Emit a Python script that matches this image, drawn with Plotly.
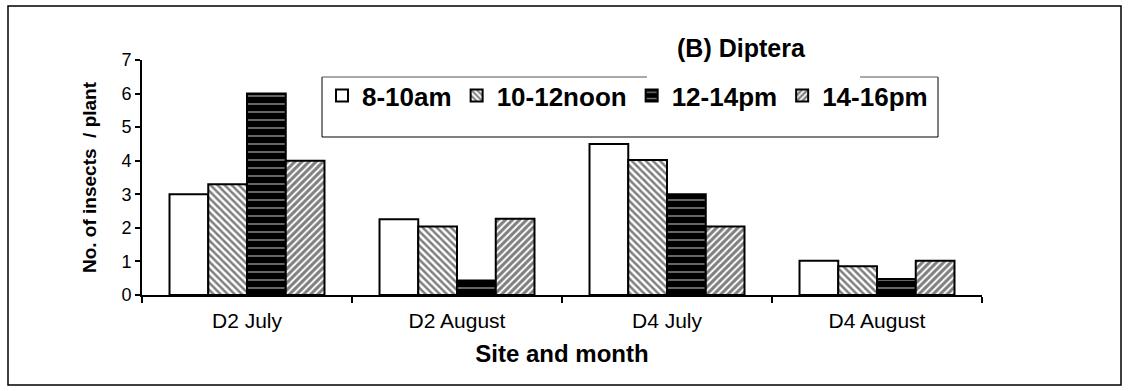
import plotly.graph_objects as go

categories = ["D2 July", "D2 August", "D4 July", "D4 August"]
series_names = ["8-10am", "10-12noon", "12-14pm", "14-16pm"]
v_8_10 = [3.0, 2.26, 4.5, 1.02]
v_10_12 = [3.3, 2.04, 4.02, 0.86]
v_12_14 = [6.0, 0.43, 3.0, 0.48]
v_14_16 = [4.0, 2.27, 2.04, 1.02]
y_ticks = [0, 1, 2, 3, 4, 5, 6, 7]

FONT = "Liberation Sans, Arial, sans-serif"

# plot area in pixels
W, H = 1129, 391
L, R, T, B = 142, 147, 60, 96
PW, PH = W - L - R, H - T - B


def px(xp):
    return (xp - L) / PW


def py(yp):
    return (H - B - yp) / PH


styles = [
    dict(color="white", pattern=dict(shape="")),
    dict(color="white", pattern=dict(shape="\\", bgcolor="white", fgcolor="black", size=5, solidity=0.5)),
    dict(color="black", pattern=dict(shape="-", bgcolor="black", fgcolor="white", size=8, solidity=0.2)),
    dict(color="white", pattern=dict(shape="/", bgcolor="white", fgcolor="black", size=5, solidity=0.62)),
]

fig = go.Figure()
for name, vals, st in zip(series_names, [v_8_10, v_10_12, v_12_14, v_14_16], styles):
    fig.add_trace(go.Bar(
        x=categories, y=vals, name=name,
        marker=dict(color=st["color"], pattern=st["pattern"],
                    line=dict(color="black", width=2)),
    ))

fig.update_layout(
    width=W, height=H,
    margin=dict(l=L, r=R, t=T, b=B, autoexpand=False),
    paper_bgcolor="white", plot_bgcolor="white",
    barmode="group", bargap=0.262, bargroupgap=0,
    font=dict(family=FONT, color="black"),
    legend=dict(
        orientation="h", x=px(322), y=py(72), xanchor="left", yanchor="top",
        bgcolor="rgba(0,0,0,0)", borderwidth=0,
        font=dict(family=FONT, size=26, color="black", weight="bold"),
        itemwidth=30, traceorder="normal",
    ),
    xaxis=dict(
        type="category", showline=True, linecolor="black", linewidth=2,
        ticks="outside", tickson="boundaries", ticklen=6, tickwidth=1.5, tickcolor="black",
        showgrid=False, tickfont=dict(family=FONT, size=21, color="black"),
        ticklabelstandoff=6,
        title=dict(text="<b>Site and month</b>", font=dict(family=FONT, size=24, color="black"), standoff=14),
    ),
    yaxis=dict(
        range=[0, 7], tickvals=y_ticks, showline=True, linecolor="black", linewidth=2,
        ticks="outside", ticklen=5, tickwidth=1.5, tickcolor="black",
        showgrid=False, zeroline=False, tickfont=dict(family=FONT, size=18, color="black"),
        title=dict(text="<b>No. of insects  / plant</b>", font=dict(family=FONT, size=19, color="black"), standoff=20),
    ),
    shapes=[
        # outer frame
        dict(type="rect", xref="paper", yref="paper", x0=px(8), x1=px(1121), y0=py(385), y1=py(6),
             line=dict(color="black", width=1.5), layer="below"),
        # legend box
        dict(type="line", xref="paper", yref="paper", x0=px(322), x1=px(322), y0=py(77), y1=py(137),
             line=dict(color="black", width=1)),
        dict(type="line", xref="paper", yref="paper", x0=px(938), x1=px(938), y0=py(77), y1=py(137),
             line=dict(color="black", width=1)),
        dict(type="line", xref="paper", yref="paper", x0=px(322), x1=px(938), y0=py(137), y1=py(137),
             line=dict(color="black", width=1)),
        dict(type="line", xref="paper", yref="paper", x0=px(322), x1=px(647), y0=py(77), y1=py(77),
             line=dict(color="#555555", width=1)),
        dict(type="line", xref="paper", yref="paper", x0=px(860), x1=px(938), y0=py(77), y1=py(77),
             line=dict(color="#555555", width=1)),
    ],
    annotations=[
        dict(text="<b>(B) Diptera</b>", xref="paper", yref="paper", x=px(741), y=py(48),
             xanchor="center", yanchor="middle", showarrow=False,
             font=dict(family=FONT, size=25, color="black")),
    ],
)

fig.write_html(
    "out.html",
    config={"displayModeBar": False},
    post_script="document.body.style.margin='0';document.body.style.padding='0';",
)
